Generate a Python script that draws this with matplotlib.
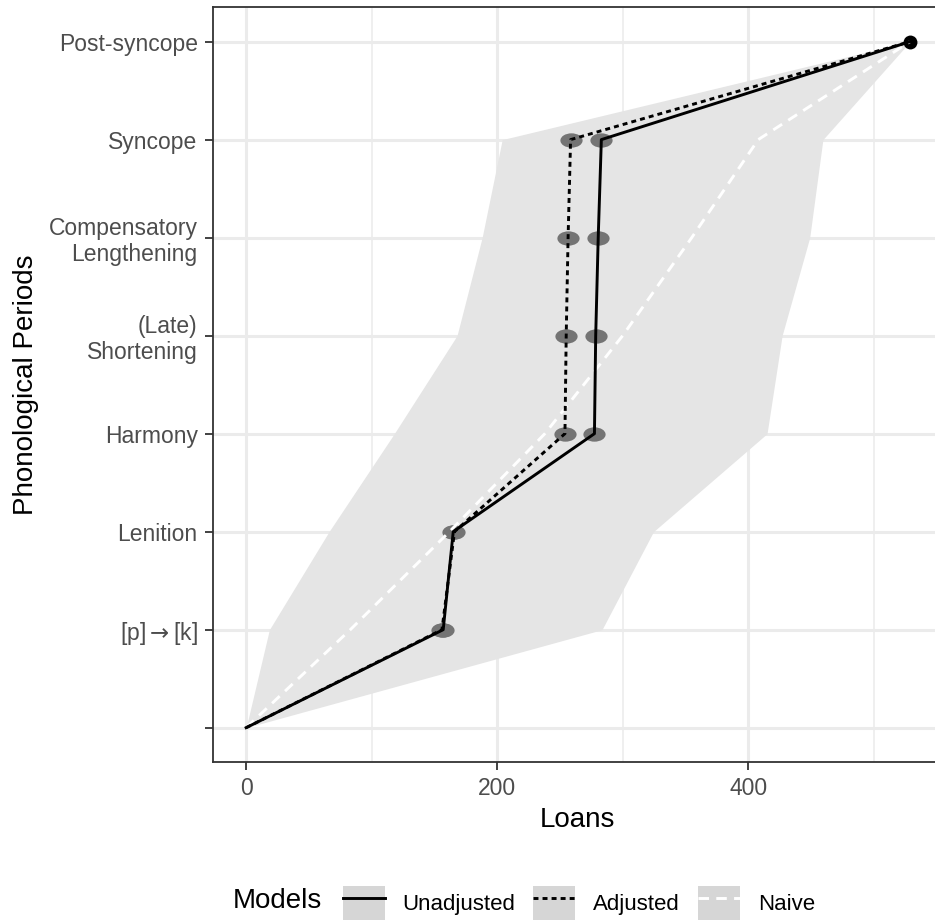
import matplotlib.pyplot as plt
import numpy as np
from matplotlib.path import Path
from matplotlib.patches import Patch
from matplotlib.lines import Line2D
from matplotlib.legend_handler import HandlerTuple

plt.rcParams["font.family"] = ["Liberation Sans", "DejaVu Sans"]

periods = ["", r"[p]$\rightarrow$[k]", "Lenition", "Harmony", "(Late)\nShortening",
           "Compensatory\nLengthening", "Syncope", "Post-syncope"]
unadjusted = [0, 157, 165, 277.5, 278.5, 280.5, 283, 529]
adjusted = [0, 156, 166, 254, 255, 256.5, 258.5, 529]
naive = [0, 83, 162, 238, 300, 355, 408, 529]
band_low = [0, 18.5, 66, 118, 168, 188, 204, 529]
band_high = [0, 283.5, 324.5, 415, 427, 449, 459.5, 529]

y = np.arange(len(periods))
LW = 2.1
DOT = (0, (1.7, 1.4))
DASH = (0, (3.6, 2.5))

fig = plt.figure(figsize=(9.35, 9.21), dpi=100)
ax = fig.add_axes([213 / 935, 1 - 762 / 921, 729 / 935, 754.7 / 921])

ax.fill_betweenx(y, band_low, band_high, color="#e5e5e5", lw=0, zorder=1)

# ellipse marker for the estimates
circ = Path.unit_circle()
ell = Path(circ.vertices * np.array([1.55, 1.0]), circ.codes)
ax.plot(unadjusted[1:-1], y[1:-1], ls="none", marker=ell, ms=16,
        color="#747474", mec="none", zorder=2)
ax.plot(adjusted[1:-1], y[1:-1], ls="none", marker=ell, ms=16,
        color="#747474", mec="none", zorder=2)
ax.plot(unadjusted[-1:], y[-1:], ls="none", marker="o", ms=10,
        color="black", mec="none", zorder=2)

ax.plot(naive, y, color="white", lw=LW, ls=DASH, zorder=3)
ax.plot(adjusted, y, color="black", lw=LW, ls=DOT, zorder=4)
ax.plot(unadjusted, y, color="black", lw=LW, zorder=5)

ax.set_xlim(-26.4, 554.4)
ax.set_ylim(-0.35, 7.35)
ax.set_xticks([0, 200, 400])
ax.set_xticks([100, 300, 500], minor=True)
ax.set_yticks(y, labels=periods)
ax.grid(True, which="major", color="#ebebeb", lw=2.2, zorder=0)
ax.grid(True, which="minor", axis="x", color="#ebebeb", lw=1.1, zorder=0)
ax.set_axisbelow(True)
ax.tick_params(axis="both", which="major", labelsize=16.5, labelcolor="#4d4d4d",
               color="#333333", length=6, width=1.3)
ax.tick_params(axis="x", which="minor", length=0)
ax.tick_params(axis="x", pad=5)
ax.tick_params(axis="y", pad=5)
for lab in ax.get_yticklabels():
    lab.set_linespacing(1.15)
for s in ax.spines.values():
    s.set_color("#333333")
    s.set_linewidth(1.3)

ax.set_xlabel("Loans", fontsize=20, labelpad=4.5)
ax.set_ylabel("Phonological Periods", fontsize=20, labelpad=7)

key = "#d6d6d6"
handles = [
    (Patch(facecolor=key, edgecolor="none"), Line2D([], [], color="black", lw=LW)),
    (Patch(facecolor=key, edgecolor="none"), Line2D([], [], color="black", lw=LW, ls=DOT)),
    (Patch(facecolor=key, edgecolor="none"), Line2D([], [], color="white", lw=LW, ls=DASH)),
]
fig.legend(handles, ["Unadjusted", "Adjusted", "Naive"], ncol=3,
           handler_map={tuple: HandlerTuple(ndivide=1, pad=0)},
           loc="center left", bbox_to_anchor=(327 / 935, 1 - 903 / 921),
           frameon=False, fontsize=16, handlelength=1.9, handleheight=2.0,
           handletextpad=0.8, columnspacing=0.8, borderpad=0.2)
fig.text(233 / 935, 1 - 901 / 921, "Models", fontsize=20, va="center", ha="left")

fig.savefig("out.png", dpi=100)
